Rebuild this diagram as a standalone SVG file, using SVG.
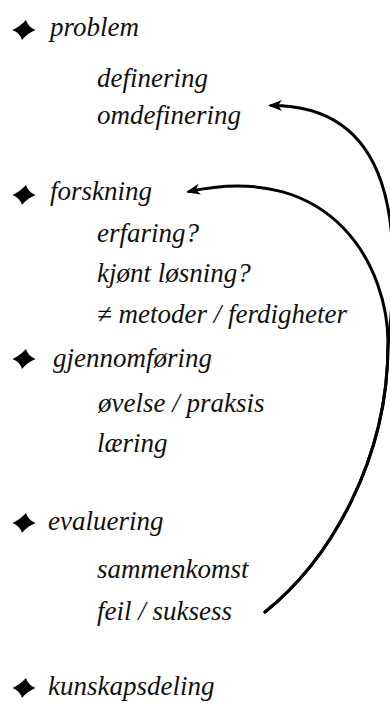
<svg xmlns="http://www.w3.org/2000/svg" width="390" height="703" viewBox="0 0 390 703">
<style>
text{font-family:"Liberation Serif","Times New Roman",serif;font-style:italic;font-size:27px;fill:#111}
.conn{fill:none;stroke:#000;stroke-width:3;stroke-linecap:round}
.star{fill:#000}
</style>
<defs>
<path id="star" d="M-11.5,0 Q-4,-3.5 2,-10 Q4,-3 11.5,0 Q3,3.5 -2,10 Q-4,3 -11.5,0Z"/>
<marker id="ah" viewBox="-16 -7 17 14" refX="-3" refY="0" markerWidth="17" markerHeight="14" markerUnits="userSpaceOnUse" orient="auto">
<path d="M0,0 L-14,-5.5 L-10,0 L-14,5.5Z" fill="#000"/>
</marker>
</defs>
<rect width="390" height="703" fill="#fff"/>
<g id="connectors">
<path class="conn" d="M265,612 C330,560 388,460 388,345 C389,270 335,160 189,191.5" marker-end="url(#ah)"/>
<path class="conn" d="M265,612 C330,560 388,460 388,345 C402,230 395,105 271,105.5" marker-end="url(#ah)"/>
</g>
<g id="problem"><use href="#star" x="24" y="30" class="star"/><text x="50" y="36">problem</text></g>
<g id="definering"><text x="97" y="87">definering</text></g>
<g id="omdefinering"><text x="97" y="124">omdefinering</text></g>
<g id="forskning"><use href="#star" x="24" y="195" class="star"/><text x="50" y="200">forskning</text></g>
<g id="erfaring"><text x="97" y="242">erfaring?</text></g>
<g id="kjont"><text x="97" y="282">kjønt løsning?</text></g>
<g id="metoder"><text x="97" y="323">≠ metoder / ferdigheter</text></g>
<g id="gjennomforing"><use href="#star" x="24" y="359" class="star"/><text x="53" y="367">gjennomføring</text></g>
<g id="ovelse"><text x="98" y="412">øvelse / praksis</text></g>
<g id="laering"><text x="97" y="452">læring</text></g>
<g id="evaluering"><use href="#star" x="24" y="523" class="star"/><text x="48" y="530">evaluering</text></g>
<g id="sammenkomst"><text x="97" y="578">sammenkomst</text></g>
<g id="feil"><text x="97" y="620">feil / suksess</text></g>
<g id="kunskapsdeling"><use href="#star" x="24" y="688" class="star"/><text x="48" y="695">kunskapsdeling</text></g>
</svg>
